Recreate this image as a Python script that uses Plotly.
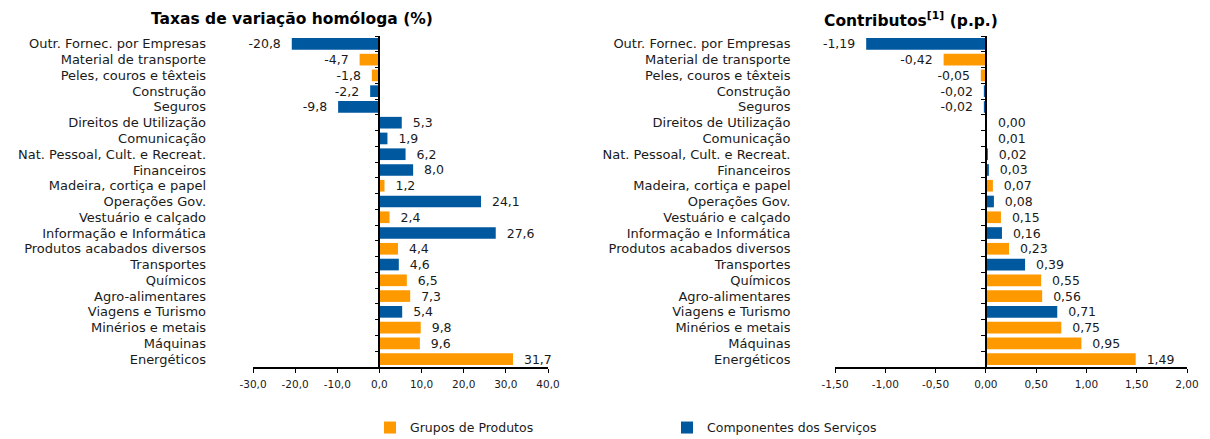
import plotly.graph_objects as go

categories = [
    "Outr. Fornec. por Empresas", "Material de transporte", "Peles, couros e têxteis",
    "Construção", "Seguros", "Direitos de Utilização", "Comunicação",
    "Nat. Pessoal, Cult. e Recreat.", "Financeiros", "Madeira, cortiça e papel",
    "Operações Gov.", "Vestuário e calçado", "Informação e Informática",
    "Produtos acabados diversos", "Transportes", "Químicos", "Agro-alimentares",
    "Viagens e Turismo", "Minérios e metais", "Máquinas", "Energéticos",
]
# P = Grupos de Produtos, S = Componentes dos Serviços
groups = ["S", "P", "P", "S", "S", "S", "S", "S", "S", "P", "S", "P", "S", "P",
          "S", "P", "P", "S", "P", "P", "P"]
taxas = [-20.8, -4.7, -1.8, -2.2, -9.8, 5.3, 1.9, 6.2, 8.0, 1.2, 24.1, 2.4, 27.6,
         4.4, 4.6, 6.5, 7.3, 5.4, 9.8, 9.6, 31.7]
contributos = [-1.19, -0.42, -0.05, -0.02, -0.02, 0.004, 0.01, 0.02, 0.03, 0.07,
               0.08, 0.15, 0.16, 0.23, 0.39, 0.55, 0.56, 0.71, 0.75, 0.95, 1.49]

# x-axis tick values
ticks_taxas = [-30, -20, -10, 0, 10, 20, 30, 40]
ticks_contrib = [-1.5, -1.0, -0.5, 0.0, 0.5, 1.0, 1.5, 2.0]

group_names = {"P": "Grupos de Produtos", "S": "Componentes dos Serviços"}
group_colors = {"P": "#FF9900", "S": "#00589F"}

FONT = "DejaVu Sans, Liberation Sans, Arial, sans-serif"
TXT = "#1a1a1a"
W, H = 1210, 439
M_T, M_B = 36, 72

# subplot geometry (paper fractions)
dom1 = [253 / W, 548 / W]
dom2 = [835 / W, 1187 / W]
rng1 = [ticks_taxas[0], ticks_taxas[-1]]
rng2 = [ticks_contrib[0], ticks_contrib[-1]]


def zero_pos(dom, rng):
    return dom[0] + (0 - rng[0]) / (rng[1] - rng[0]) * (dom[1] - dom[0])


def num(v, nd):
    return f"{v:.{nd}f}".replace(".", ",")


def fmt(v, nd):
    s = num(v, nd)
    pad = "\u00a0\u00a0"
    return s + pad if v < 0 else pad + s


fig = go.Figure()

for g in ["P", "S"]:
    cats = [c for c, gg in zip(categories, groups) if gg == g]
    v1 = [v for v, gg in zip(taxas, groups) if gg == g]
    v2 = [v for v, gg in zip(contributos, groups) if gg == g]
    common = dict(orientation="h", name=group_names[g], y=cats,
                  marker=dict(color=group_colors[g], line=dict(width=0)),
                  textposition="outside", cliponaxis=False, constraintext="none",
                  textfont=dict(family=FONT, size=12.5, color=TXT),
                  width=0.74, legendgroup=g, hoverinfo="x+y")
    fig.add_trace(go.Bar(x=v1, text=[fmt(v, 1) for v in v1],
                         xaxis="x", yaxis="y", showlegend=True, **common))
    fig.add_trace(go.Bar(x=v2, text=[fmt(v, 2) for v in v2],
                         xaxis="x2", yaxis="y2", showlegend=False, **common))

yaxis_common = dict(
    type="category", categoryorder="array", categoryarray=categories,
    autorange="reversed", showgrid=False, zeroline=False,
    showline=True, linecolor="black", linewidth=1.5,
    ticks="outside", ticklen=4, tickcolor="black", tickwidth=1,
    tickson="boundaries", tickmode="linear", dtick=1, tick0=0, automargin=False,
    tickfont=dict(family=FONT, size=13, color=TXT),
    anchor="free", domain=[0, 1],
)
xaxis_common = dict(
    showgrid=False, zeroline=False, showline=True, linecolor="black", linewidth=1.5,
    ticks="outside", ticklen=4, tickcolor="black", automargin=False,
    tickfont=dict(family=FONT, size=10.5, color=TXT), tickmode="array",
    ticklabelstandoff=3,
)

fig.update_layout(
    width=W, height=H,
    margin=dict(l=0, r=0, t=M_T, b=M_B, autoexpand=False),
    paper_bgcolor="white", plot_bgcolor="white",
    separators=",.",
    barmode="overlay",
    font=dict(family=FONT, color=TXT),
    xaxis=dict(xaxis_common, domain=dom1, range=rng1, anchor="y",
               tickvals=ticks_taxas, ticktext=[num(t, 1) for t in ticks_taxas]),
    xaxis2=dict(xaxis_common, domain=dom2, range=rng2, anchor="y2",
                tickvals=ticks_contrib, ticktext=[num(t, 2) for t in ticks_contrib]),
    yaxis=dict(yaxis_common, position=zero_pos(dom1, rng1), ticklabelstandoff=170),
    yaxis2=dict(yaxis_common, position=zero_pos(dom2, rng2), ticklabelstandoff=192),
    legend=dict(
        orientation="h", x=370 / W, xanchor="left", y=-0.184, yanchor="middle",
        font=dict(family=FONT, size=12.5, color=TXT),
        entrywidth=252, entrywidthmode="pixels", traceorder="normal",
    ),
    showlegend=True,
    annotations=[
        dict(text="<b>Taxas de variação homóloga (%)</b>", xref="paper", yref="paper",
             x=292 / W, y=1 + (M_T - 19) / (H - M_T - M_B), xanchor="center",
             yanchor="middle", showarrow=False,
             font=dict(family=FONT, size=15.5, color="black")),
        dict(text="<b>Contributos<sup>[1]</sup> (p.p.)</b>", xref="paper", yref="paper",
             x=911 / W, y=1 + (M_T - 19) / (H - M_T - M_B), xanchor="center",
             yanchor="middle", showarrow=False,
             font=dict(family=FONT, size=15.5, color="black")),
    ],
)

fig.write_html(
    "out.html",
    config={"displayModeBar": False},
    post_script="document.body.style.margin='0';document.body.style.overflow='hidden';",
)
